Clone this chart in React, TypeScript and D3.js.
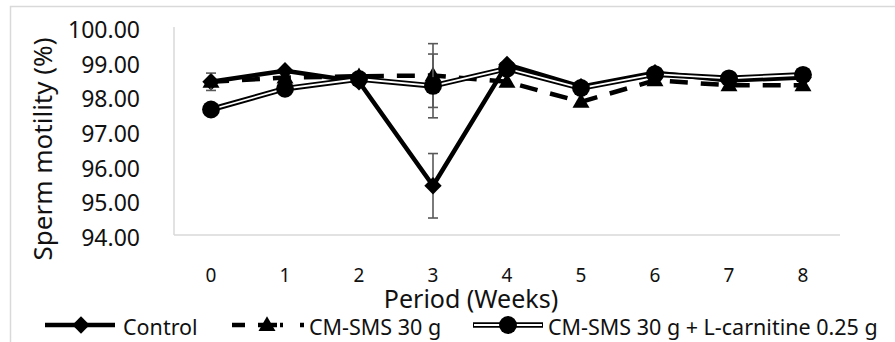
import React from "react";
import * as d3 from "d3";

// Sperm motility (%) by week for three feeding groups
const weeks = [0, 1, 2, 3, 4, 5, 6, 7, 8];
const yTicks = [94, 95, 96, 97, 98, 99, 100];

const controlMotility = [98.42, 98.74, 98.42, 95.42, 98.92, 98.28, 98.68, 98.46, 98.54];
const cmSmsMotility = [98.42, 98.54, 98.58, 98.6, 98.42, 97.84, 98.46, 98.32, 98.32];
const carnitineMotility = [97.62, 98.22, 98.5, 98.3, 98.8, 98.24, 98.64, 98.52, 98.62];

// Standard errors (only the larger ones extend beyond the markers)
const controlError = [0, 0, 0, 0.93, 0, 0, 0, 0, 0];
const cmSmsError = [0.25, 0, 0, 0.92, 0, 0, 0, 0, 0];
const carnitineError = [0, 0, 0, 0.92, 0, 0, 0, 0, 0];

const seriesNames = ["Control", "CM-SMS 30 g", "CM-SMS 30 g + L-carnitine 0.25 g"];

const W = 895;
const H = 342;
const FONT = "'Noto Sans', 'DejaVu Sans', sans-serif";

const x = d3.scaleBand<number>().domain(weeks).range([174, 840]).padding(0);
const cx = (w: number) => (x(w) as number) + x.bandwidth() / 2;
const y = d3.scaleLinear().domain([94, 100]).range([235, 27]);

const diamond = d3.symbol().type(d3.symbolSquare).size(150)();
const triangle = d3.symbol().type(d3.symbolTriangle).size(125)();
const circle = d3.symbol().type(d3.symbolCircle).size(250)();

const lineGen = d3
  .line<number>()
  .x((_, i) => cx(weeks[i]))
  .y((v) => y(v));

function ErrorBars({ values, errors }: { values: number[]; errors: number[] }) {
  return (
    <g stroke="#595959" strokeWidth={1.6}>
      {values.map((v, i) =>
        errors[i] > 0 ? (
          <g key={i}>
            <line x1={cx(weeks[i])} x2={cx(weeks[i])} y1={y(v + errors[i])} y2={y(v - errors[i])} />
            <line x1={cx(weeks[i]) - 5} x2={cx(weeks[i]) + 5} y1={y(v + errors[i])} y2={y(v + errors[i])} />
            <line x1={cx(weeks[i]) - 5} x2={cx(weeks[i]) + 5} y1={y(v - errors[i])} y2={y(v - errors[i])} />
          </g>
        ) : null
      )}
    </g>
  );
}

export default function App() {
  const legendY = 325;
  return (
    <svg
      width={W}
      height={H}
      style={{ position: "absolute", left: 0, top: 0, display: "block", background: "#fff" }}
      fontFamily={FONT}
    >
      <rect x={0} y={0} width={W} height={H} fill="#fff" />
      {/* chart frame */}
      <path d={`M10.5,${H} V6.5 H${W}`} fill="none" stroke="#d9d9d9" strokeWidth={1.5} />

      {/* axes */}
      <line x1={174} x2={174} y1={y(100)} y2={y(94)} stroke="#d9d9d9" strokeWidth={1.5} />
      <line x1={174} x2={840} y1={y(94)} y2={y(94)} stroke="#d9d9d9" strokeWidth={1.5} />

      {yTicks.map((t) => (
        <text key={t} x={140} y={y(t) + 2} textAnchor="end" dominantBaseline="central" fontSize={23} fill="#111">
          {t.toFixed(2)}
        </text>
      ))}
      {weeks.map((w) => (
        <text key={w} x={cx(w)} y={275} textAnchor="middle" dominantBaseline="central" fontSize={19} fill="#111">
          {w}
        </text>
      ))}
      <text
        transform={`translate(42,149) rotate(-90)`}
        textAnchor="middle"
        dominantBaseline="central"
        fontSize={26}
        fill="#111"
      >
        Sperm motility (%)
      </text>
      <text x={471} y={298} textAnchor="middle" dominantBaseline="central" fontSize={25} fill="#111">
        Period (Weeks)
      </text>

      {/* Control */}
      <path d={lineGen(controlMotility) as string} fill="none" stroke="#000" strokeWidth={4.5} strokeLinejoin="round" />
      <ErrorBars values={controlMotility} errors={controlError} />
      {controlMotility.map((v, i) => (
        <path key={i} d={diamond as string} transform={`translate(${cx(weeks[i])},${y(v)}) rotate(45)`} fill="#000" />
      ))}

      {/* CM-SMS 30 g */}
      <path
        d={lineGen(cmSmsMotility) as string}
        fill="none"
        stroke="#000"
        strokeWidth={4.5}
        strokeDasharray="18,13"
      />
      <ErrorBars values={cmSmsMotility} errors={cmSmsError} />
      {cmSmsMotility.map((v, i) => (
        <path key={i} d={triangle as string} transform={`translate(${cx(weeks[i])},${y(v) + 1})`} fill="#000" />
      ))}

      {/* CM-SMS 30 g + L-carnitine 0.25 g (double line) */}
      <path d={lineGen(carnitineMotility) as string} fill="none" stroke="#000" strokeWidth={5.5} strokeLinejoin="round" />
      <path d={lineGen(carnitineMotility) as string} fill="none" stroke="#fff" strokeWidth={1.8} strokeLinejoin="round" />
      <ErrorBars values={carnitineMotility} errors={carnitineError} />
      {carnitineMotility.map((v, i) => (
        <path key={i} d={circle as string} transform={`translate(${cx(weeks[i])},${y(v)})`} fill="#000" />
      ))}

      {/* legend */}
      <g fontSize={21.5} fill="#111">
        <line x1={45} x2={115} y1={legendY} y2={legendY} stroke="#000" strokeWidth={4.5} />
        <path d={diamond as string} transform={`translate(81,${legendY}) rotate(45)`} fill="#000" />
        <text x={123} y={legendY + 1} dominantBaseline="central">{seriesNames[0]}</text>

        <line
          x1={232}
          x2={304}
          y1={legendY}
          y2={legendY}
          stroke="#000"
          strokeWidth={4.5}
          strokeDasharray="13,13,19,3,3,17,4"
        />
        <path d={triangle as string} transform={`translate(267,${legendY + 1})`} fill="#000" />
        <text x={309} y={legendY + 1} dominantBaseline="central">{seriesNames[1]}</text>

        <line x1={473} x2={543} y1={legendY} y2={legendY} stroke="#000" strokeWidth={5.5} />
        <line x1={474} x2={542} y1={legendY} y2={legendY} stroke="#fff" strokeWidth={1.8} />
        <path d={circle as string} transform={`translate(508,${legendY})`} fill="#000" />
        <text x={548} y={legendY + 1} dominantBaseline="central">{seriesNames[2]}</text>
      </g>
    </svg>
  );
}
